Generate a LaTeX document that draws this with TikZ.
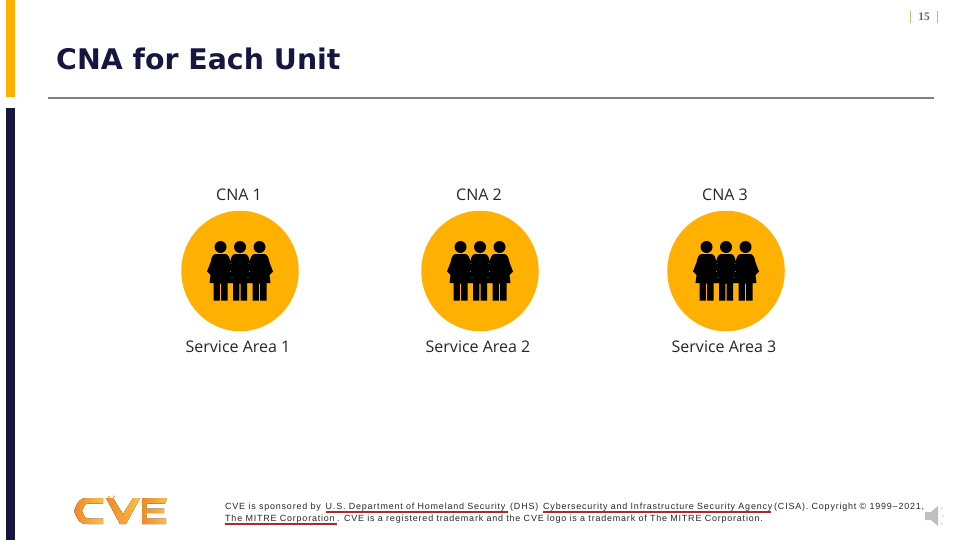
\documentclass[tikz,border=0pt]{standalone}
\usepackage{fontspec}
\usetikzlibrary{shapes.geometric}
\setmainfont{Open Sans}
\newfontfamily\titlefont{DejaVu Sans}
\newfontfamily\footfont[LetterSpace=9]{Liberation Sans}
\newfontfamily\numfont{Liberation Serif}
\definecolor{cveamber}{HTML}{FFB000}
\definecolor{cvenavy}{HTML}{16173F}
\definecolor{cvered}{HTML}{B02A2A}
\definecolor{logoA}{HTML}{FBBF45}
\definecolor{logoB}{HTML}{F08A24}
\definecolor{pagebar}{HTML}{B9C46A}
\tikzset{
  labeltext/.style={inner sep=0pt,font=\fontsize{16}{18}\selectfont,text=black!85},
  foottext/.style={inner sep=0pt,anchor=base west,font=\footfont\fontsize{8.95}{10}\selectfont,text=black!85},
  linkline/.style={draw=cvered,line width=1.5pt},
  logofill/.style={left color=logoB,right color=logoA,draw=none},
  orgcircle/.style={ellipse,fill=cveamber,minimum width=117.5pt,minimum height=120.5pt,inner sep=0pt},
}
\newcommand{\personat}[1]{%
  \begin{scope}[shift={(#1,0)}]
    \fill (0,-22.5) circle (6);
    \fill (-5,-15.5) -- (5,-15.5) .. controls (8,-15) and (9,-12) .. (10,-7)
      -- (13.5,2) -- (10,5.5) -- (11,13.5) -- (7,13.5) -- (7,31) -- (0.7,31) -- (0.7,14)
      -- (-0.7,14) -- (-0.7,31) -- (-7,31) -- (-7,13.5) -- (-11,13.5) -- (-10,5.5) -- (-13.5,2)
      -- (-10,-7) .. controls (-9,-12) and (-8,-15) .. (-5,-15.5) -- cycle;
  \end{scope}}
\begin{document}
\begin{tikzpicture}[x=1pt,y=-1pt]
\useasboundingbox (0,0) rectangle (960,540);
% side bars
\fill[cveamber] (6,0) rectangle (15,97);
\fill[cvenavy] (6,108) rectangle (15,540);
% page number
\draw[pagebar,line width=.7pt] (910,11) -- (910,23) (937.5,11) -- (937.5,23);
\node[inner sep=0pt,text=black!60] (pg) at (924,16.5) {\numfont\fontsize{11.5}{12}\selectfont\bfseries 15};
% title
\node[inner sep=0pt,anchor=base west,text=cvenavy] (title) at (56,70) {\titlefont\bfseries\fontsize{28.4}{32}\selectfont CNA for Each Unit};
\coordinate (ruleL) at (48,98);
\coordinate (ruleR) at (934,98);
\draw[black!50,line width=1.6pt] (ruleL) -- (ruleR);
% columns
\node[labeltext] (cna1) at (239,194.5) {CNA 1};
\node[labeltext] (cna2) at (479,194.5) {CNA 2};
\node[labeltext] (cna3) at (725,194.5) {CNA 3};
\node[orgcircle] (c1) at (240,271) {};
\node[orgcircle] (c2) at (480,271) {};
\node[orgcircle] (c3) at (726,271) {};
\node[labeltext] (sa1) at (238,346.5) {Service Area 1};
\node[labeltext] (sa2) at (478,346.5) {Service Area 2};
\node[labeltext] (sa3) at (724,346.5) {Service Area 3};
\foreach \cx in {240,480,726}{
  \begin{scope}[shift={(\cx,269.5)}]
    \personat{-19.5}\personat{19.5}\personat{0}
    \foreach \dx/\dy in {-9/-6,-9.5/2,-8/8,9/-6,9.5/2,8/8}{\fill[cveamber!70!white] (\dx,\dy) circle (.35);}
  \end{scope}}
% logo
\fill[logofill] (103,498) -- (87,498) .. controls (80,498) and (78,501) .. (74,511)
  .. controls (78,521) and (80,524) .. (87,524) -- (103,524) -- (103,518.5) -- (89,518.5)
  .. controls (85,518.5) and (84,516) .. (82,511) .. controls (84,506) and (85,503.5) .. (89,503.5)
  -- (103,503.5) -- cycle;
\fill[logofill] (106,498) -- (113,498) -- (123,514) -- (133,498) -- (140,498) -- (126,524) -- (120,524) -- cycle;
\fill[logofill] (142,498) -- (167,498) -- (165,503.5) -- (147,503.5) -- (146,508.5) -- (164,508.5) -- (164,513) -- (146,513) -- (147,518.5) -- (166,518.5) -- (166,524) -- (142,524) -- cycle;
\fill[logoA] (108,496) rectangle (110,498) (113,495.5) rectangle (115,497.5);
% footer
\node[foottext] (f1) at (225,509.8) {CVE is sponsored by};
\node[foottext] (f2) at (325.5,509.8) {U.S. Department of Homeland Security};
\node[foottext] (f3) at (510,509.8) {(DHS)};
\node[foottext] (f4) at (543,509.8) {Cybersecurity and Infrastructure Security Agency};
\node[foottext] (f5) at (774,509.8) {(CISA). Copyright \symbol{"00A9} 1999\symbol{"2013}2021,};
\node[foottext] (f6) at (225,521.8) {The MITRE Corporation};
\node[foottext] (f7) at (337,521.8) {. CVE is a registered trademark and the CVE logo is a trademark of The MITRE Corporation.};
\draw[linkline] (325.5,512) -- (508,512) (543,512) -- (771,512) (225,524) -- (337,524);
% speaker icon
\fill[black!25] (925,512) -- (931,512) -- (938,506) -- (938,526) -- (931,520) -- (925,520) -- cycle;
\draw[black!18,line width=1pt,dash pattern=on 2pt off 2pt] (941,509) -- (944,506) (942,516) -- (946,516) (941,523) -- (944,526);
\end{tikzpicture}
\end{document}
